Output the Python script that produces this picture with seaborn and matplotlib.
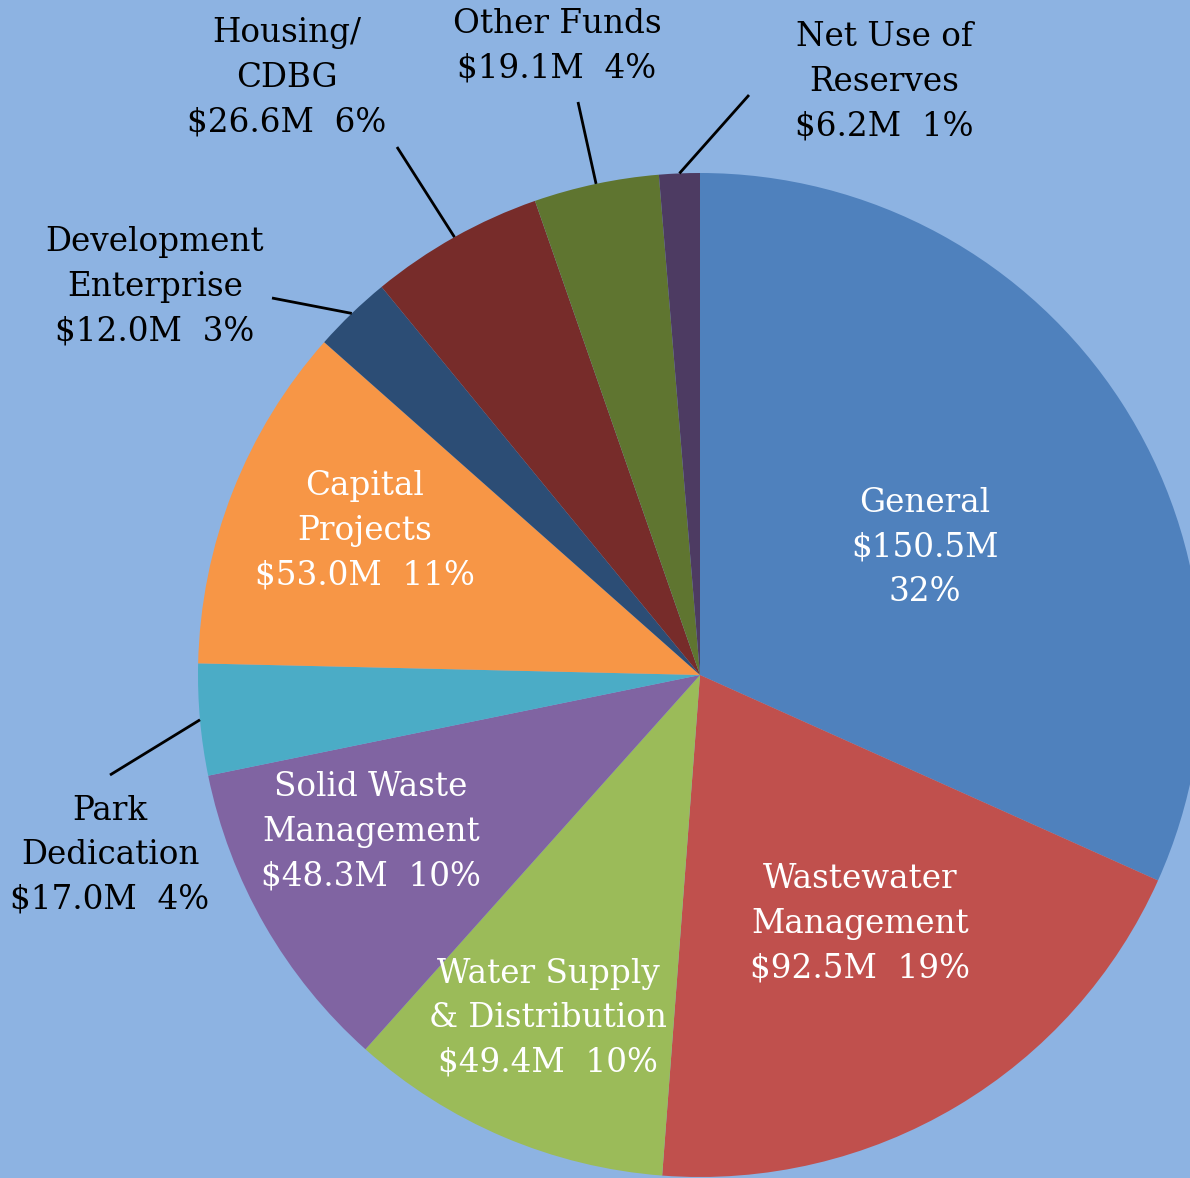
import matplotlib
matplotlib.use("Agg")
import matplotlib.pyplot as plt
import seaborn as sns
import numpy as np

# ---- data ----
funds = ["General", "Wastewater Management", "Water Supply & Distribution",
         "Solid Waste Management", "Park Dedication", "Capital Projects",
         "Development Enterprise", "Housing/CDBG", "Other Funds",
         "Net Use of Reserves"]
amounts = [150.5, 92.5, 49.4, 48.3, 17.0, 53.0, 12.0, 26.6, 19.1, 6.2]
pcts = ["32%", "19%", "10%", "10%", "4%", "11%", "3%", "6%", "4%", "1%"]
label_texts = [
    "General\n$150.5M\n32%",
    "Wastewater\nManagement\n$92.5M  19%",
    "Water Supply\n& Distribution\n$49.4M  10%",
    "Solid Waste\nManagement\n$48.3M  10%",
    "Park\nDedication\n$17.0M  4%",
    "Capital\nProjects\n$53.0M  11%",
    "Development\nEnterprise\n$12.0M  3%",
    "Housing/\nCDBG\n$26.6M  6%",
    "Other Funds\n$19.1M  4%",
    "Net Use of\nReserves\n$6.2M  1%",
]
colors = ["#4F81BD", "#C0504D", "#9BBB59", "#8064A2", "#4BACC6",
          "#F79646", "#2C4D75", "#772C2A", "#5F7530", "#4D3B62"]

# ---- layout (pixels) ----
W, H = 1190, 1178
CX, CY, R = 700, 675, 502

def px(x, y):
    return ((x - CX) / R, (CY - y) / R)

# label centres in pixels, inside flag, leader start (pixels)
label_pos = [(925, 548), (860, 924), (548, 1018), (371, 832), (110, 855),
             (365, 531), (155, 287), (287, 78), (557, 46), (884, 82)]
inside = [True, True, True, True, False, True, False, False, False, False]
leader_start = [None, None, None, None, (110, 775), None, (272, 298),
                (397, 147), (578, 102), (749, 95)]

sns.set_style("white")
plt.rcParams["font.family"] = ["DejaVu Serif"]
pal = sns.color_palette(colors)

bg = "#8DB3E2"
fig = plt.figure(figsize=(W / 100, H / 100), dpi=100, facecolor=bg)
ax = fig.add_axes([0, 0, 1, 1])
ax.set_facecolor(bg)

wedges, _ = ax.pie(amounts, colors=pal, startangle=90, counterclock=False,
                   radius=1.0, wedgeprops=dict(linewidth=0))

for i, w in enumerate(wedges):
    tx, ty = px(*label_pos[i])
    ax.text(tx, ty, label_texts[i], ha="center", va="center",
            fontsize=23.5, linespacing=1.5,
            color="white" if inside[i] else "black")
    if leader_start[i] is not None:
        mid = np.deg2rad((w.theta1 + w.theta2) / 2)
        ex, ey = np.cos(mid) * 1.0, np.sin(mid) * 1.0
        sx, sy = px(*leader_start[i])
        ax.plot([sx, ex], [sy, ey], color="black", lw=2, solid_capstyle="butt")

ax.set_xlim(-CX / R, (W - CX) / R)
ax.set_ylim(-(H - CY) / R, CY / R)
ax.set_aspect("equal", adjustable="datalim")
ax.axis("off")

fig.savefig("out.png", dpi=100, facecolor=bg)
